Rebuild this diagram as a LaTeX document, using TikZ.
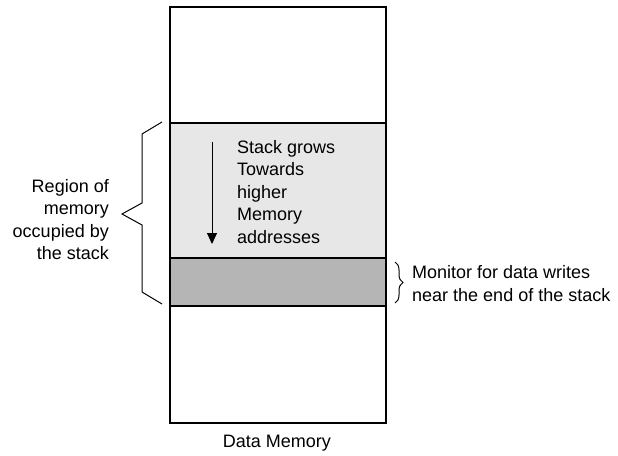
\documentclass[tikz,border=0pt]{standalone}
\usepackage{fontspec}
\setmainfont{Liberation Sans}
\usepackage{xcolor}
\definecolor{stackfill}{gray}{0.905}
\definecolor{guardfill}{gray}{0.71}
\usetikzlibrary{decorations.pathreplacing}
\usetikzlibrary{arrows.meta}
\usetikzlibrary{positioning}

\begin{document}
\begin{tikzpicture}[x=1pt,y=-1pt, every node/.style={inner sep=0pt, font=\fontsize{18}{22.5}\selectfont},
  memline/.style={line width=2pt},
  bracket/.style={line width=1pt}]
\useasboundingbox (0,0) rectangle (618,455);

% Memory regions
  \fill[stackfill] (170,123) rectangle (386,258);
  \fill[guardfill] (170,258) rectangle (386,306);
  \draw[memline] (170,7) rectangle (386,423);
  \draw[memline] (170,123) -- (386,123);
  \draw[memline] (170,258) -- (386,258);
  \draw[memline] (170,306) -- (386,306);

% Stack growth
  \coordinate (growtop) at (212,142);
  \coordinate (growend) at (212,244);
  \draw[line width=1pt, -{Triangle[length=11pt,width=10pt]}] (growtop) -- (growend);
  \node[anchor=west, align=left] (grows) at (237,192) {Stack grows\\Towards\\higher\\Memory\\addresses};

% Region of the stack
  \coordinate (regtop) at (162,122);
  \coordinate (regtip) at (122,214);
  \coordinate (regbot) at (162,304);
  \draw[bracket] (regtop) -- (142,134) -- (142,203) -- (regtip) -- (142,225) -- (142,292) -- (regbot);
  \node[anchor=east, align=right] (region) at (109,219.5) {Region of\\memory\\occupied by\\the stack};

% Monitor
  \coordinate (montop) at (395,262);
  \coordinate (monbot) at (395,303);
  \draw[bracket, decorate, decoration={brace, amplitude=8pt}] (montop) -- (monbot);
  \node[anchor=west, align=left] (monitor) at (412,283.5) {Monitor for data writes\\near the end of the stack};

  \node (datamem) at (277,443) {Data Memory};

\end{tikzpicture}
\end{document}
